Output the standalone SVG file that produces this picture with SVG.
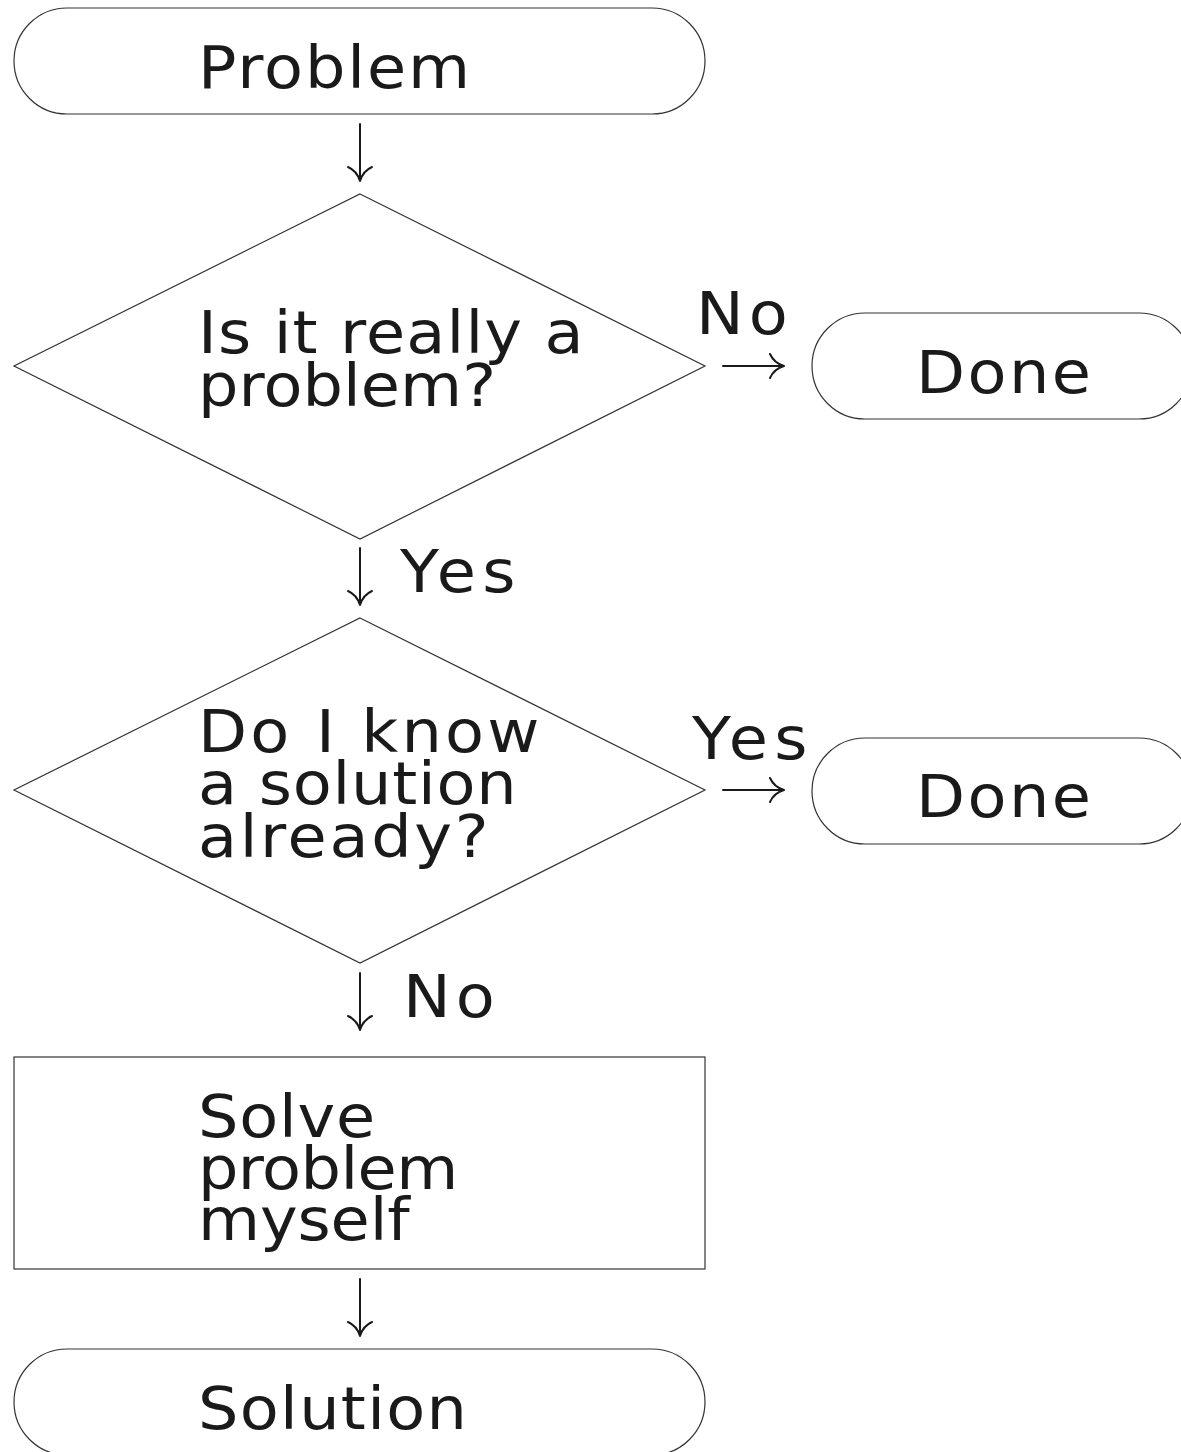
<svg xmlns="http://www.w3.org/2000/svg" width="1181" height="1452" viewBox="0 0 1181 1452">
<style>
.shape{fill:#fff;stroke:#333;stroke-width:1.2}
.t{font-family:"DejaVu Sans","Liberation Sans",sans-serif;font-size:59px;fill:#1a1a1a}
.conn{fill:none;stroke:#1a1a1a;stroke-width:2;stroke-linecap:round;stroke-linejoin:round}
</style>
<rect width="1181" height="1452" fill="#fff"/>
<g id="problem">
<rect class="shape" x="14" y="8" width="691" height="106" rx="53" ry="53"/>
<text class="t" transform="translate(198,88) scale(1.08,1)" textLength="252" lengthAdjust="spacing">Problem</text>
</g>
<g id="decision1">
<polygon class="shape" points="360,194 705,366 360,539 14,366"/>
<text class="t" transform="translate(198,353) scale(1.08,1)" textLength="357" lengthAdjust="spacing">Is it really a</text>
<text class="t" transform="translate(198,406) scale(1.08,1)" textLength="276" lengthAdjust="spacing">problem?</text>
</g>
<g id="done1">
<rect class="shape" x="812" y="313" width="380" height="106" rx="53" ry="53"/>
<text class="t" transform="translate(916,393) scale(1.08,1)" textLength="162" lengthAdjust="spacing">Done</text>
</g>
<g id="decision2">
<polygon class="shape" points="360,618 705,790 360,963 14,790"/>
<text class="t" transform="translate(198,752) scale(1.08,1)" textLength="316" lengthAdjust="spacing">Do I know</text>
<text class="t" transform="translate(198,804) scale(1.08,1)" textLength="295" lengthAdjust="spacing">a solution</text>
<text class="t" transform="translate(198,857) scale(1.08,1)" textLength="269" lengthAdjust="spacing">already?</text>
</g>
<g id="done2">
<rect class="shape" x="812" y="738" width="380" height="106" rx="53" ry="53"/>
<text class="t" transform="translate(916,817) scale(1.08,1)" textLength="162" lengthAdjust="spacing">Done</text>
</g>
<g id="solve">
<rect class="shape" x="14" y="1057" width="691" height="212"/>
<text class="t" transform="translate(198,1137) scale(1.08,1)" textLength="164" lengthAdjust="spacing">Solve</text>
<text class="t" transform="translate(198,1189) scale(1.08,1)" textLength="241" lengthAdjust="spacing">problem</text>
<text class="t" transform="translate(198,1240) scale(1.08,1)" textLength="196" lengthAdjust="spacing">myself</text>
</g>
<g id="solution">
<rect class="shape" x="14" y="1349" width="691" height="106" rx="53" ry="53"/>
<text class="t" transform="translate(198,1429) scale(1.08,1)" textLength="249" lengthAdjust="spacing">Solution</text>
</g>
<g id="connectors">
<path class="conn" d="M360,124 V180 M348,167 Q357,171 360,181 Q363,171 372,167"/>
<path class="conn" d="M360,548 V604 M348,591 Q357,595 360,605 Q363,595 372,591"/>
<path class="conn" d="M360,973 V1029 M348,1016 Q357,1020 360,1030 Q363,1020 372,1016"/>
<path class="conn" d="M360,1279 V1335 M348,1322 Q357,1326 360,1336 Q363,1326 372,1322"/>
<path class="conn" d="M723,366 H783 M770,354 Q774,363 784,366 Q774,369 770,378"/>
<path class="conn" d="M723,790 H783 M770,778 Q774,787 784,790 Q774,793 770,802"/>
<text class="t" transform="translate(696,334) scale(1.08,1)" textLength="85" lengthAdjust="spacing">No</text>
<text class="t" transform="translate(400,592) scale(1.08,1)" textLength="107" lengthAdjust="spacing">Yes</text>
<text class="t" transform="translate(692,759) scale(1.08,1)" textLength="107" lengthAdjust="spacing">Yes</text>
<text class="t" transform="translate(403,1017) scale(1.08,1)" textLength="85" lengthAdjust="spacing">No</text>
</g>
</svg>
